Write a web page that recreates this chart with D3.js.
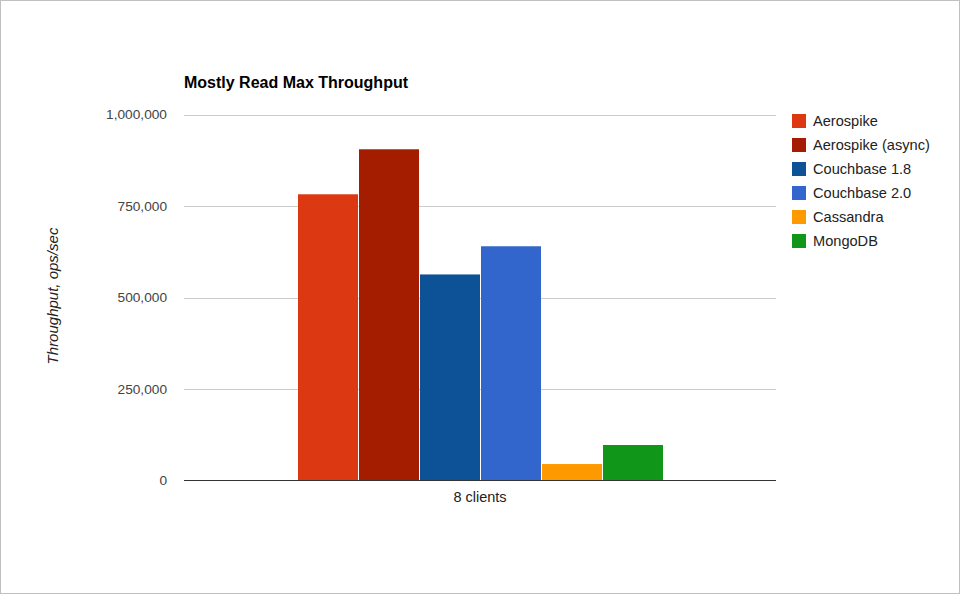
<!DOCTYPE html>
<html><head><meta charset="utf-8">
<script src="https://cdn.jsdelivr.net/npm/d3@7"></script>
<style>
html,body{margin:0;padding:0;background:#fff;}
svg{display:block;font-family:Arial,"Liberation Sans",sans-serif;}
</style></head>
<body>
<svg id="chart" width="960" height="594"></svg>
<script>
const categories = ["8 clients"];
const series = ["Aerospike","Aerospike (async)","Couchbase 1.8","Couchbase 2.0","Cassandra","MongoDB"];
const values = [782000, 905000, 563000, 640000, 45000, 97000];
const colors = ["#dc3912","#a51d00","#0d5196","#3366cc","#ff9900","#109618"];
const yTicks = [0, 250000, 500000, 750000, 1000000];

const svg = d3.select("#chart");
svg.append("rect").attr("x",0.5).attr("y",0.5).attr("width",959).attr("height",593)
  .attr("fill","#fff").attr("stroke","#c0c0c0");

const plotLeft = 184, plotRight = 776, plotTop = 114.5, plotBottom = 480.5;
const y = d3.scaleLinear().domain([0,1000000]).range([plotBottom, plotTop]);
const x0 = d3.scaleBand().domain(categories).range([plotLeft, plotRight]).paddingInner(0).paddingOuter(0);
const x1 = d3.scaleBand().domain(series).range([298, 664]).paddingInner(0);

// gridlines
svg.append("g").selectAll("line").data(yTicks.filter(d=>d>0)).join("line")
  .attr("x1",plotLeft).attr("x2",plotRight)
  .attr("y1",d=>Math.round(y(d))+0.5).attr("y2",d=>Math.round(y(d))+0.5)
  .attr("stroke","#cccccc").attr("stroke-width",1);

// tick labels
svg.append("g").selectAll("text").data(yTicks).join("text")
  .attr("x",167).attr("y",d=>y(d)).attr("dy","0.35em")
  .attr("text-anchor","end").attr("font-size",13.7).attr("fill","#444")
  .text(d=>d3.format(",")(d));

// bars
svg.append("g").selectAll("rect").data(series).join("rect")
  .attr("x",d=>x1(d)).attr("width",x1.bandwidth()-1)
  .attr("y",(d,i)=>y(values[i])).attr("height",(d,i)=>plotBottom - y(values[i]))
  .attr("fill",(d,i)=>colors[i]);

// baseline
svg.append("line").attr("x1",plotLeft).attr("x2",plotRight).attr("y1",480.5).attr("y2",480.5)
  .attr("stroke","#333").attr("stroke-width",1);

// category label
svg.append("g").selectAll("text").data(categories).join("text")
  .attr("x",d=>x0(d)+x0.bandwidth()/2).attr("y",502)
  .attr("text-anchor","middle").attr("font-size",14.5).attr("fill","#222").text(d=>d);

// title
svg.append("text").attr("x",184).attr("y",88).attr("font-size",16).attr("font-weight","bold")
  .attr("fill","#000").text("Mostly Read Max Throughput");

// y axis title
svg.append("text").attr("transform","translate(58,296) rotate(-90)")
  .attr("text-anchor","middle").attr("font-size",15).attr("font-style","italic").attr("fill","#222")
  .text("Throughput, ops/sec");

// legend
const lg = svg.append("g").selectAll("g").data(series).join("g")
  .attr("transform",(d,i)=>`translate(792,${114 + i*24})`);
lg.append("rect").attr("width",14).attr("height",14).attr("fill",(d,i)=>colors[i]);
lg.append("text").attr("x",21).attr("y",7).attr("dy","0.35em").attr("font-size",14.6).attr("fill","#222").text(d=>d);
</script>
</body></html>
